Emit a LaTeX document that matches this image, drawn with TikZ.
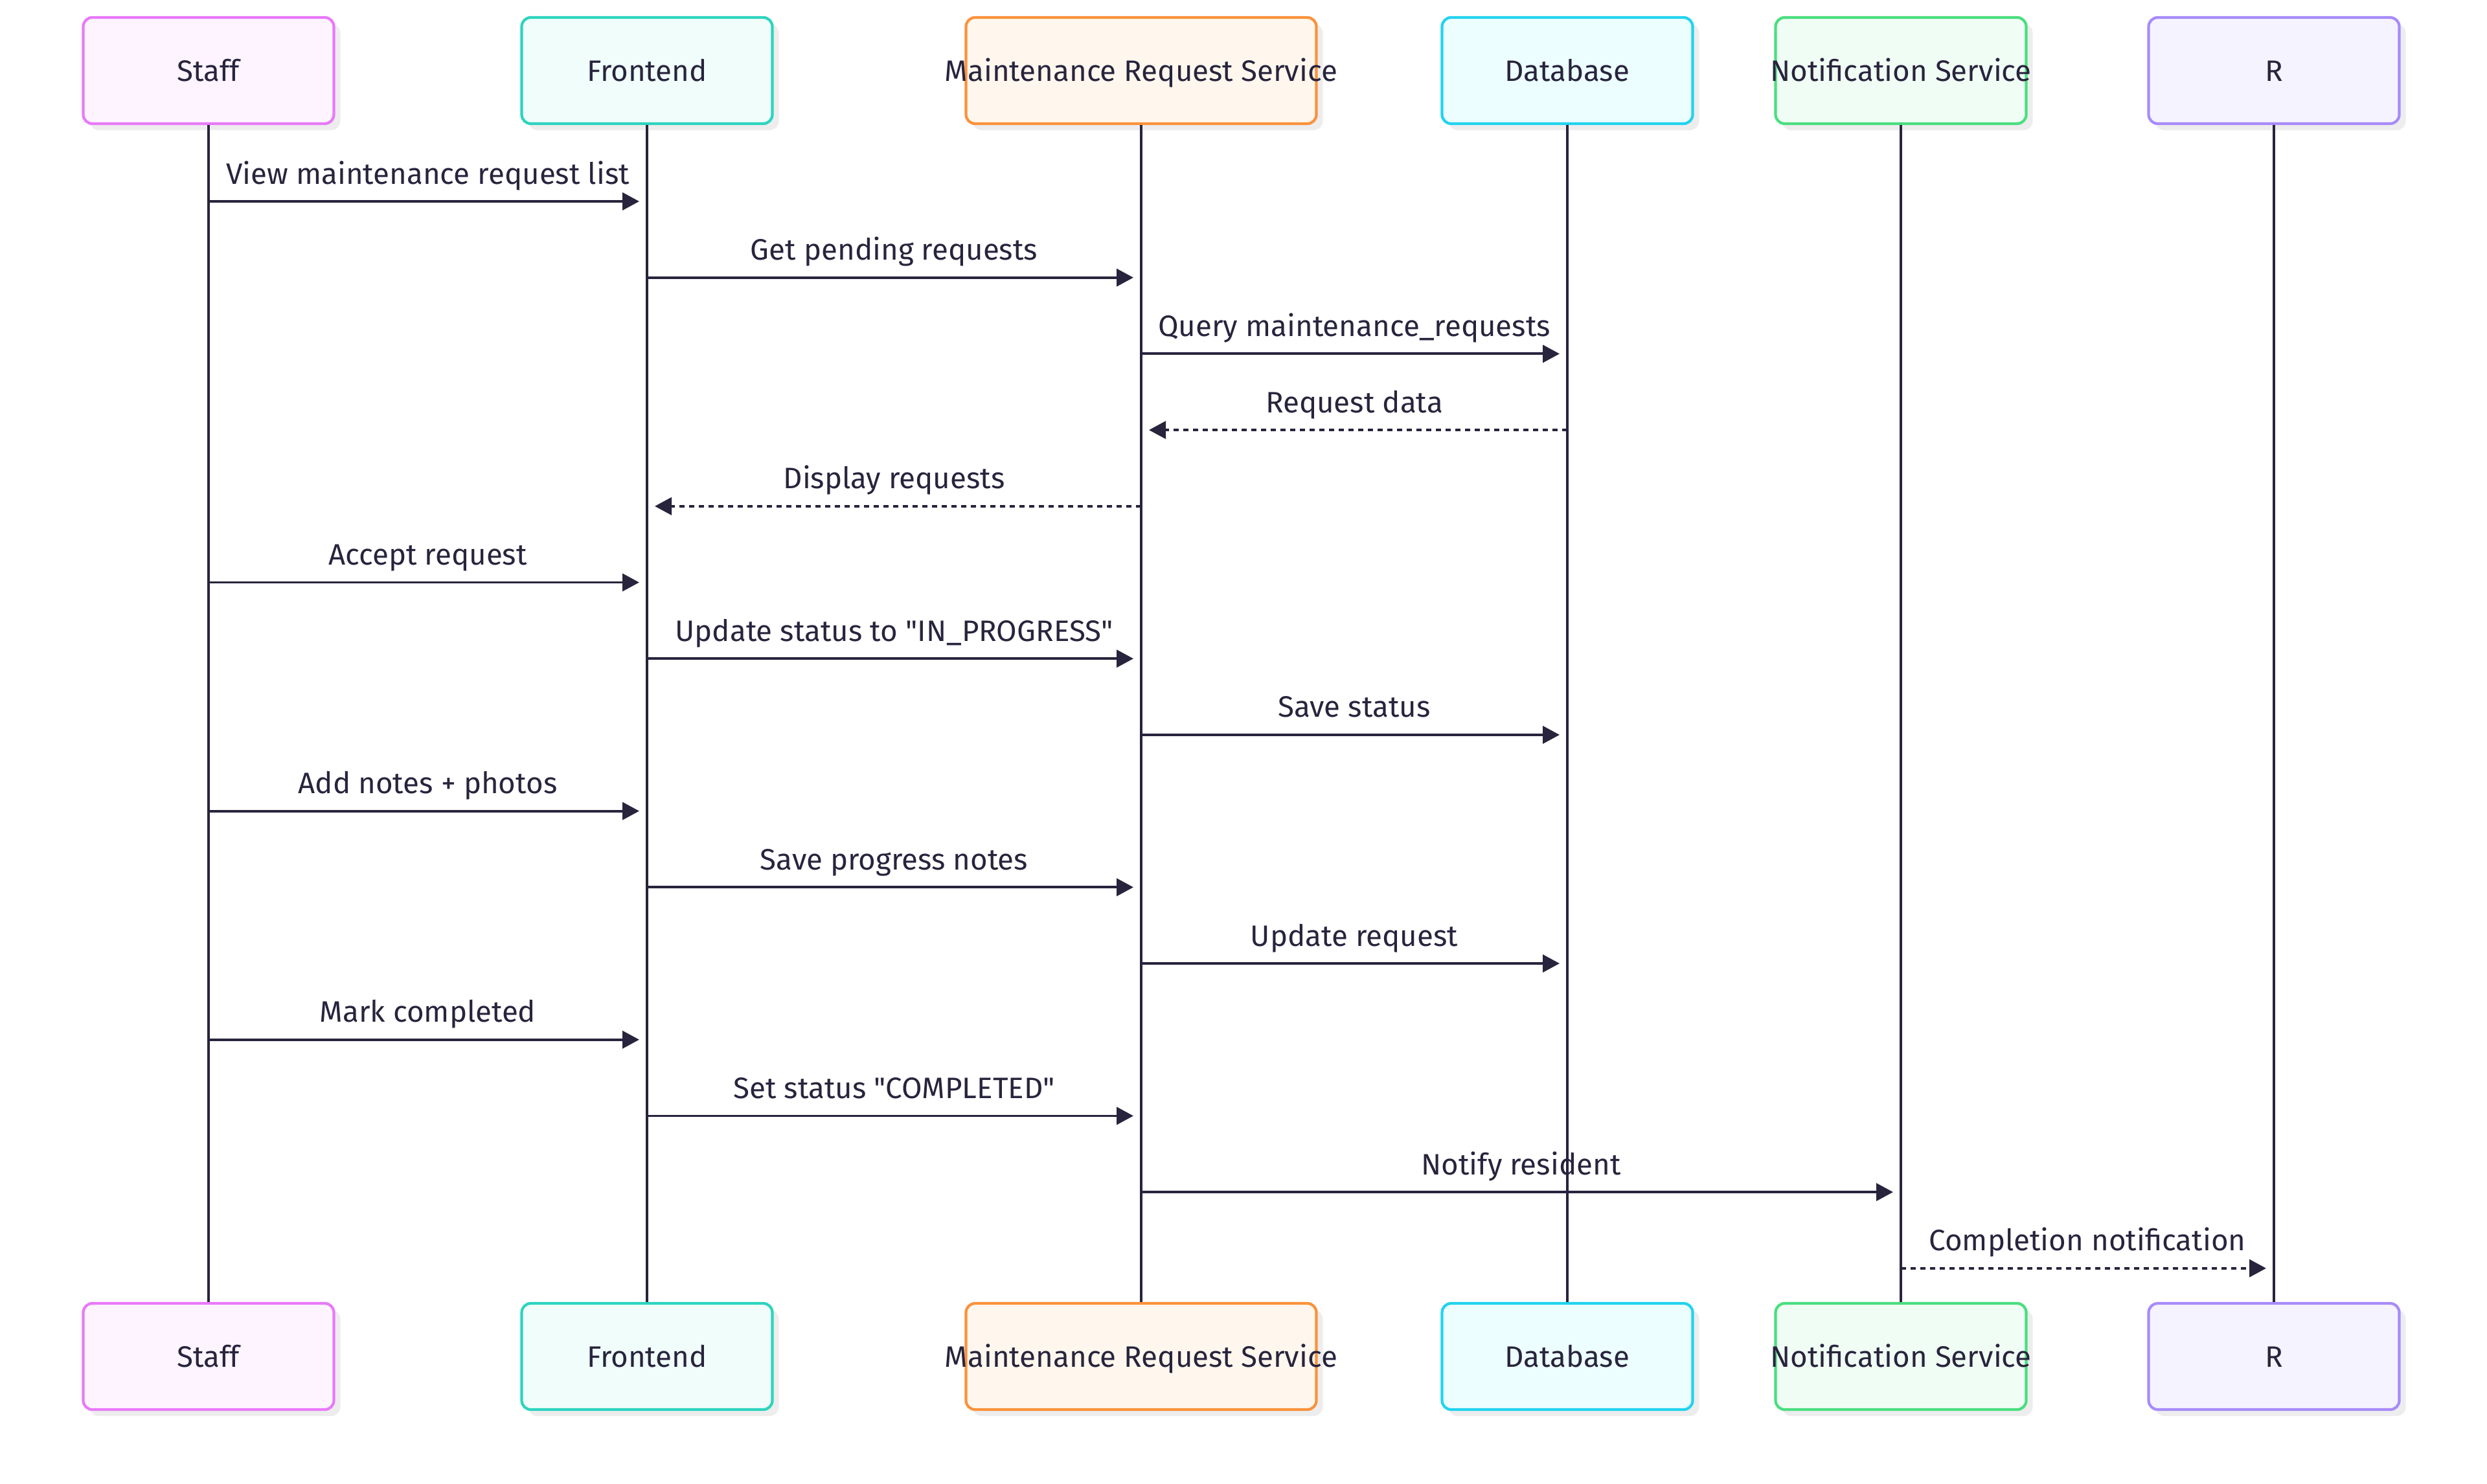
\documentclass[tikz,border=0pt]{standalone}
\usepackage{fontspec}
\setmainfont{Fira Sans}
\usetikzlibrary{arrows.meta,positioning,shadows,calc}
\definecolor{ink}{HTML}{28243D}
\definecolor{staffL}{HTML}{E879F9}\definecolor{staffF}{HTML}{FDF4FF}
\definecolor{frontL}{HTML}{2DD4BF}\definecolor{frontF}{HTML}{F0FDFA}
\definecolor{mrsL}{HTML}{FB923C}\definecolor{mrsF}{HTML}{FFF7ED}
\definecolor{dbL}{HTML}{22D3EE}\definecolor{dbF}{HTML}{ECFEFF}
\definecolor{notL}{HTML}{4ADE80}\definecolor{notF}{HTML}{F0FDF4}
\definecolor{resL}{HTML}{A78BFA}\definecolor{resF}{HTML}{F5F3FF}
\newcommand\lbl{\fontsize{13pt}{15.5pt}\selectfont}
\tikzset{actor/.style = {rectangle, rounded corners=4pt, line width=1.2pt, minimum width=3.87cm, minimum height=1.64cm, text=ink, font=\lbl,
            text height=.91em, text depth=0pt,
            drop shadow={shadow xshift=.1cm, shadow yshift=-.1cm, fill=black!7, opacity=1}},
    life/.style = {line width=1.1pt, draw=ink},
    post/.style = {-{Triangle[length=.26cm,width=.27cm]}, line width=1.1pt, draw=ink, shorten >=.12cm},
    reply/.style = {post, dash pattern=on .08cm off .07cm}
}
% style, from, to, row, text
\newcommand\Msg[5]{%
    \pgfmathsetmacro\yy{-3.11-(#4-1)*1.177}
    \draw[#1] (#2 |- 0,\yy) -- node[midway,anchor=base,yshift=.27cm,text=ink,font=\lbl] {#5} (#3 |- 0,\yy);
    }

\begin{document}
\begin{tikzpicture}
 \useasboundingbox (0,0) rectangle (38.4,-22.91);
 \foreach \n/\t/\x/\w/\cl/\cf in {staff/Staff/3.22/3.87/staffL/staffF, front/Frontend/9.99/3.87/frontL/frontF,
        mrs/Maintenance Request Service/17.62/5.41/mrsL/mrsF, db/Database/24.20/3.87/dbL/dbF,
        notif/Notification Service/29.35/3.87/notL/notF, res/R/35.11/3.87/resL/resF}{
  \node[actor, draw=\cl, fill=\cf, minimum width=\w cm] (\n) at (\x,-1.09) {\makebox[0pt]{\t}};
  \node[actor, draw=\cl, fill=\cf, minimum width=\w cm] (\n B) at (\x,-20.95) {\makebox[0pt]{\t}};
  \draw[life] (\n) -- (\n B);
 }

 \Msg{post}{staff}{front}{1}{View maintenance request list}
 \Msg{post}{front}{mrs}{2}{Get pending requests}
 \Msg{post}{mrs}{db}{3}{Query maintenance\_requests}
 \Msg{reply}{db}{mrs}{4}{Request data}
 \Msg{reply}{mrs}{front}{5}{Display requests}
 \Msg{post}{staff}{front}{6}{Accept request}
 \Msg{post}{front}{mrs}{7}{Update status to \textquotedbl IN\_PROGRESS\textquotedbl}
 \Msg{post}{mrs}{db}{8}{Save status}
 \Msg{post}{staff}{front}{9}{Add notes + photos}
 \Msg{post}{front}{mrs}{10}{Save progress notes}
 \Msg{post}{mrs}{db}{11}{Update request}
 \Msg{post}{staff}{front}{12}{Mark completed}
 \Msg{post}{front}{mrs}{13}{Set status \textquotedbl COMPLETED\textquotedbl}
 \Msg{post}{mrs}{notif}{14}{Notify resident}
 \Msg{reply}{notif}{res}{15}{Completion notification}
\end{tikzpicture}
\end{document}
